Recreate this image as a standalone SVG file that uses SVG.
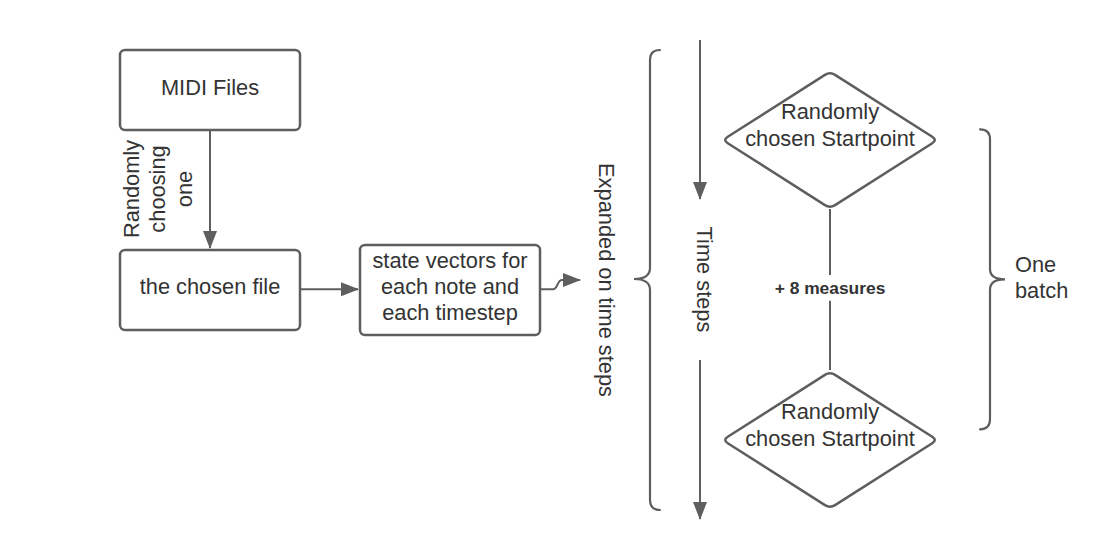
<svg xmlns="http://www.w3.org/2000/svg" width="1100" height="557" viewBox="0 0 1100 557">
  <defs>
    <style>
      .box { fill: #ffffff; stroke: #5e5e5e; stroke-width: 2.5; }
      .ln { fill: none; stroke: #5e5e5e; stroke-width: 2; }
      .brace { fill: none; stroke: #5e5e5e; stroke-width: 2.2; stroke-linecap: round; }
      .t { font-family: "Liberation Sans", Arial, sans-serif; font-size: 21.8px; fill: #333333; }
      .c { text-anchor: middle; }
      .b { font-weight: bold; font-size: 17.4px; }
    </style>
    <marker id="arr" markerUnits="userSpaceOnUse" markerWidth="18" markerHeight="14" viewBox="0 0 18 14" refX="17" refY="7" orient="auto">
      <path d="M0,0 L18,7 L0,14 Z" fill="#5e5e5e"/>
    </marker>
  </defs>

  <rect width="1100" height="557" fill="#ffffff"/>

  <g id="connectors">
    <line class="ln" x1="210" y1="131" x2="210" y2="248" marker-end="url(#arr)"/>
    <line class="ln" x1="301" y1="289.3" x2="358" y2="289.3" marker-end="url(#arr)"/>
    <path class="ln" d="M541,289.3 L553,289.3 C558,289.3 557,280 562,280 L580,280" marker-end="url(#arr)"/>
    <line class="ln" x1="700" y1="40" x2="700" y2="199" marker-end="url(#arr)"/>
    <line class="ln" x1="700" y1="360" x2="700" y2="519" marker-end="url(#arr)"/>
    <line class="ln" x1="830" y1="209" x2="830" y2="275"/>
    <line class="ln" x1="830" y1="300.7" x2="830" y2="370"/>
    <text class="t c b" x="830" y="293.5">+ 8 measures</text>
    <text class="t c" transform="translate(138.5,189) rotate(-90)">Randomly</text>
    <text class="t c" transform="translate(165,189) rotate(-90)">choosing</text>
    <text class="t c" transform="translate(191.7,189) rotate(-90)">one</text>
  </g>

  <g id="midi-files">
    <rect class="box" x="120" y="50" width="180" height="80" rx="5"/>
    <text class="t c" x="210" y="95">MIDI Files</text>
  </g>

  <g id="chosen-file">
    <rect class="box" x="120" y="250" width="180" height="80" rx="5"/>
    <text class="t c" x="210" y="294">the chosen file</text>
  </g>

  <g id="state-vectors">
    <rect class="box" x="360" y="245" width="180" height="90" rx="5"/>
    <text class="t c" x="450" y="267.7">state vectors for</text>
    <text class="t c" x="450" y="294">each note and</text>
    <text class="t c" x="450" y="320.3">each timestep</text>
  </g>

  <g id="expanded-brace">
    <path class="brace" d="M660,50 Q650,50 650,60 L650,268 Q650,279 634,279 Q650,279 650,290 L650,500 Q650,510 660,510"/>
    <text class="t c" transform="translate(599,280) rotate(90)">Expanded on time steps</text>
  </g>

  <g id="time-steps">
    <text class="t c" transform="translate(697,279.5) rotate(90)">Time steps</text>
  </g>

  <g id="startpoint-1">
    <path class="box" d="M835.06,74.92 L932.24,136.78 Q937.3,140 932.24,143.22 L835.06,205.08 Q830,208.3 824.94,205.08 L727.76,143.22 Q722.7,140 727.76,136.78 L824.94,74.92 Q830,71.7 835.06,74.92 Z"/>
    <text class="t c" x="830" y="119.3">Randomly</text>
    <text class="t c" x="830" y="145.8">chosen Startpoint</text>
  </g>

  <g id="startpoint-2">
    <path class="box" transform="translate(0,300)" d="M835.06,74.92 L932.24,136.78 Q937.3,140 932.24,143.22 L835.06,205.08 Q830,208.3 824.94,205.08 L727.76,143.22 Q722.7,140 727.76,136.78 L824.94,74.92 Q830,71.7 835.06,74.92 Z"/>
    <text class="t c" x="830" y="419.3">Randomly</text>
    <text class="t c" x="830" y="445.8">chosen Startpoint</text>
  </g>

  <g id="one-batch">
    <path class="brace" d="M980,129.3 Q990,129.3 990,139.3 L990,269 Q990,279.3 1005,279.3 Q990,279.3 990,289.6 L990,419.3 Q990,429.3 980,429.3"/>
    <text class="t" x="1015" y="271.7">One</text>
    <text class="t" x="1015" y="298.3">batch</text>
  </g>
</svg>
